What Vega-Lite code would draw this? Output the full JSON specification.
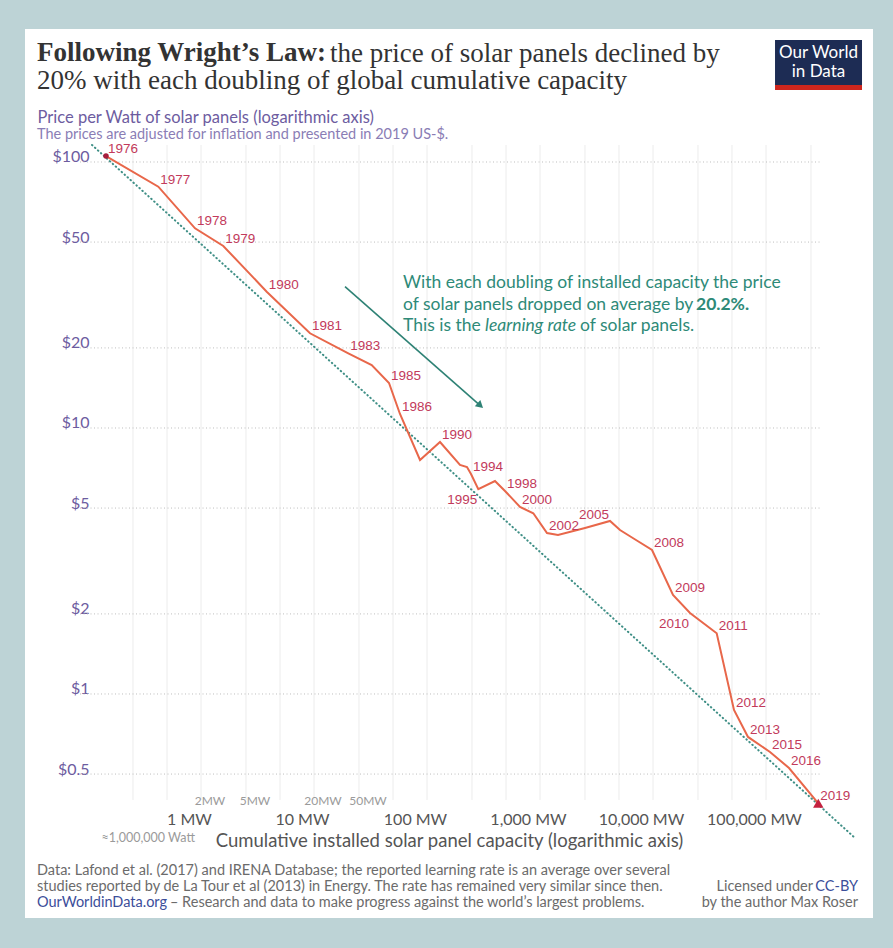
{
  "$schema": "https://vega.github.io/schema/vega-lite/v6.json",
  "width": 848,
  "height": 889,
  "autosize": {"type": "none"},
  "padding": {"left": 25, "top": 29, "right": 20, "bottom": 30},
  "background": "#bdd3d6",
  "config": {"view": {"fill": "white", "stroke": null}, "font": "Lato"},
  "title": {
    "text": "Following Wright’s Law:",
    "subtitle": "20% with each doubling of global cumulative capacity",
    "anchor": "start", "frame": "group", "offset": -66, "dx": 12,
    "font": "Liberation Serif", "fontSize": 27, "fontWeight": "bold", "color": "#333333",
    "subtitleFont": "Liberation Serif", "subtitleFontSize": 27, "subtitleColor": "#333333", "subtitlePadding": 1
  },
  "datasets": {
    "solar": [
      {"year": 1976, "mw": 0.2885, "price": 105.3, "label": "1976"},
      {"year": 1977, "mw": 0.8375, "price": 80.74, "label": "1977"},
      {"year": 1978, "mw": 1.770, "price": 56.33, "label": "1978"},
      {"year": 1979, "mw": 3.149, "price": 48.33, "label": "1979"},
      {"year": 1980, "mw": 7.626, "price": 32.54, "label": "1980"},
      {"year": 1981, "mw": 18.43, "price": 22.70, "label": "1981"},
      {"year": 1983, "mw": 40.22, "price": 19.09, "label": "1983"},
      {"year": 1984, "mw": 64.78, "price": 17.25, "label": null},
      {"year": 1985, "mw": 92.18, "price": 14.76, "label": "1985"},
      {"year": 1986, "mw": 115.3, "price": 11.29, "label": "1986"},
      {"year": 1987, "mw": 173.4, "price": 7.58, "label": null},
      {"year": 1990, "mw": 260.6, "price": 8.858, "label": "1990"},
      {"year": 1992, "mw": 391.6, "price": 7.26, "label": null},
      {"year": 1993, "mw": 451.7, "price": 7.13, "label": null},
      {"year": 1994, "mw": 490.0, "price": 6.714, "label": "1994"},
      {"year": 1995, "mw": 568.6, "price": 5.884, "label": "1995"},
      {"year": 1996, "mw": 799.0, "price": 6.320, "label": null},
      {"year": 1998, "mw": 979.8, "price": 5.798, "label": "1998"},
      {"year": 2000, "mw": 1330, "price": 5.048, "label": "2000"},
      {"year": 2001, "mw": 1744, "price": 4.779, "label": null},
      {"year": 2002, "mw": 2306, "price": 4.030, "label": "2002"},
      {"year": 2003, "mw": 2886, "price": 3.961, "label": null},
      {"year": 2004, "mw": 5001, "price": 4.208, "label": null},
      {"year": 2005, "mw": 8327, "price": 4.472, "label": "2005"},
      {"year": 2006, "mw": 10206, "price": 4.136, "label": null},
      {"year": 2007, "mw": 14143, "price": 3.793, "label": null},
      {"year": 2008, "mw": 19598, "price": 3.478, "label": "2008"},
      {"year": 2009, "mw": 30059, "price": 2.356, "label": "2009"},
      {"year": 2010, "mw": 42497, "price": 2.016, "label": "2010"},
      {"year": 2011, "mw": 73206, "price": 1.691, "label": "2011"},
      {"year": 2012, "mw": 104160, "price": 0.8706, "label": "2012"},
      {"year": 2013, "mw": 138550, "price": 0.6894, "label": "2013"},
      {"year": 2015, "mw": 216900, "price": 0.6052, "label": "2015"},
      {"year": 2016, "mw": 319500, "price": 0.5269, "label": "2016"},
      {"year": 2019, "mw": 580300, "price": 0.3882, "label": "2019"}
    ],
    "trend": [
      {"mw": 0.2169, "price": 115.86},
      {"mw": 1226000, "price": 0.2875}
    ],
    "vgrid": [
      {"mw": 0.5}, {"mw": 1}, {"mw": 2}, {"mw": 5}, {"mw": 10}, {"mw": 20}, {"mw": 50},
      {"mw": 100}, {"mw": 200}, {"mw": 500}, {"mw": 1000}, {"mw": 2000}, {"mw": 5000},
      {"mw": 10000}, {"mw": 20000}, {"mw": 50000}, {"mw": 100000}, {"mw": 200000}, {"mw": 500000}
    ],
    "hgrid": [
      {"price": 0.5}, {"price": 1}, {"price": 2}, {"price": 5},
      {"price": 10}, {"price": 20}, {"price": 50}, {"price": 100}
    ],
    "minor": [
      {"mw": 2, "label": "2MW"}, {"mw": 5, "label": "5MW"},
      {"mw": 20, "label": "20MW"}, {"mw": 50, "label": "50MW"}
    ]
  },
  "layer": [
    {
      "data": {"name": "vgrid"},
      "mark": {"type": "rule", "color": "#ececec", "strokeWidth": 1},
      "encoding": {
        "x": {"field": "mw", "type": "quantitative", "scale": {"type": "log", "domain": [0.055367, 1769500], "nice": false}},
        "y": {"datum": 0.3995, "type": "quantitative", "scale": {"type": "log", "domain": [0.14381, 316.23], "nice": false}},
        "y2": {"datum": 115.86}
      }
    },
    {
      "data": {"name": "hgrid"},
      "mark": {"type": "rule", "color": "#bdbdbd", "strokeWidth": 1, "strokeDash": [1, 2.5]},
      "encoding": {
        "y": {"field": "price", "type": "quantitative", "scale": {"type": "log", "domain": [0.14381, 316.23], "nice": false}},
        "x": {"datum": 0.16988, "type": "quantitative", "scale": {"type": "log", "domain": [0.055367, 1769500], "nice": false}},
        "x2": {"datum": 600800}
      }
    },
    {
      "data": {"name": "trend"},
      "mark": {"type": "line", "color": "#3f8f86", "strokeWidth": 2, "strokeDash": [0.5, 3.5], "strokeCap": "round"},
      "encoding": {
        "x": {"field": "mw", "type": "quantitative", "scale": {"type": "log", "domain": [0.055367, 1769500], "nice": false}},
        "y": {"field": "price", "type": "quantitative", "scale": {"type": "log", "domain": [0.14381, 316.23], "nice": false}}
      }
    },
    {
      "data": {"name": "solar"},
      "mark": {"type": "line", "color": "#e8674a", "strokeWidth": 2},
      "encoding": {
        "x": {
          "field": "mw", "type": "quantitative",
          "scale": {"type": "log", "domain": [0.055367, 1769500], "nice": false},
          "axis": {
            "values": [1, 10, 100, 1000, 10000, 100000],
            "labelExpr": "format(datum.value, ',') + ' MW'",
            "grid": false, "ticks": false, "domain": false,
            "offset": -118, "labelPadding": 11, "labelOffset": 22,
            "labelFont": "Lato", "labelFontSize": 16, "labelColor": "#555555",
            "labelOverlap": false, "labelFlush": false,
            "title": "Cumulative installed solar panel capacity (logarithmic axis)",
            "titleFont": "Lato", "titleFontSize": 18.5, "titleFontWeight": "normal",
            "titleColor": "#555555", "titlePadding": 4
          }
        },
        "y": {
          "field": "price", "type": "quantitative",
          "scale": {"type": "log", "domain": [0.14381, 316.23], "nice": false},
          "axis": {
            "values": [0.5, 1, 2, 5, 10, 20, 50, 100],
            "labelExpr": "'$' + datum.value",
            "grid": false, "ticks": false, "domain": false,
            "offset": -67, "labelPadding": 3,
            "labelFont": "Lato", "labelFontSize": 16, "labelColor": "#6d5c9f",
            "labelBaseline": "alphabetic",
            "title": "Price per Watt of solar panels (logarithmic axis)",
            "titleAngle": 0, "titleAlign": "left", "titleBaseline": "alphabetic",
            "titleX": -55, "titleY": 93,
            "titleFont": "Lato", "titleFontSize": 16.5, "titleFontWeight": "normal", "titleColor": "#6d5c9f"
          }
        },
        "order": {"field": "year", "type": "quantitative"}
      }
    },
    {
      "data": {"name": "solar"},
      "transform": [{"filter": "datum.year == 1976"}],
      "mark": {"type": "point", "filled": true, "shape": "circle", "size": 30, "color": "#a81e3c", "opacity": 1},
      "encoding": {
        "x": {"field": "mw", "type": "quantitative", "scale": {"type": "log", "domain": [0.055367, 1769500], "nice": false}},
        "y": {"field": "price", "type": "quantitative", "scale": {"type": "log", "domain": [0.14381, 316.23], "nice": false}}
      }
    },
    {
      "data": {"name": "solar"},
      "transform": [{"filter": "datum.year == 2019"}],
      "mark": {"type": "point", "filled": true, "shape": "triangle-up", "size": 110, "color": "#c4223f", "opacity": 1},
      "encoding": {
        "x": {"field": "mw", "type": "quantitative", "scale": {"type": "log", "domain": [0.055367, 1769500], "nice": false}},
        "y": {"field": "price", "type": "quantitative", "scale": {"type": "log", "domain": [0.14381, 316.23], "nice": false}}
      }
    },
    {
      "data": {"name": "solar"},
      "transform": [{"filter": "datum.label && datum.year != 1995 && datum.year != 2010 && datum.year != 2005"}],
      "mark": {"type": "text", "align": "left", "baseline": "alphabetic", "dx": 2, "dy": -3, "font": "Liberation Sans", "fontSize": 13.5, "color": "#c23a5b"},
      "encoding": {
        "x": {"field": "mw", "type": "quantitative", "scale": {"type": "log", "domain": [0.055367, 1769500], "nice": false}},
        "y": {"field": "price", "type": "quantitative", "scale": {"type": "log", "domain": [0.14381, 316.23], "nice": false}},
        "text": {"field": "label"}
      }
    },
    {
      "data": {"name": "solar"},
      "transform": [{"filter": "datum.year == 1995 || datum.year == 2010"}],
      "mark": {"type": "text", "align": "right", "baseline": "top", "dx": -1, "dy": 4, "font": "Liberation Sans", "fontSize": 13.5, "color": "#c23a5b"},
      "encoding": {
        "x": {"field": "mw", "type": "quantitative", "scale": {"type": "log", "domain": [0.055367, 1769500], "nice": false}},
        "y": {"field": "price", "type": "quantitative", "scale": {"type": "log", "domain": [0.14381, 316.23], "nice": false}},
        "text": {"field": "label"}
      }
    },
    {
      "data": {"name": "solar"},
      "transform": [{"filter": "datum.year == 2005"}],
      "mark": {"type": "text", "align": "right", "baseline": "alphabetic", "dx": -1, "dy": -2, "font": "Liberation Sans", "fontSize": 13.5, "color": "#c23a5b"},
      "encoding": {
        "x": {"field": "mw", "type": "quantitative", "scale": {"type": "log", "domain": [0.055367, 1769500], "nice": false}},
        "y": {"field": "price", "type": "quantitative", "scale": {"type": "log", "domain": [0.14381, 316.23], "nice": false}},
        "text": {"field": "label"}
      }
    },
    {
      "data": {"name": "minor"},
      "mark": {"type": "text", "align": "center", "baseline": "middle", "dx": 9, "font": "Lato", "fontSize": 12, "color": "#9a9a9a"},
      "encoding": {
        "x": {"field": "mw", "type": "quantitative", "scale": {"type": "log", "domain": [0.055367, 1769500], "nice": false}},
        "y": {"datum": 0.396, "type": "quantitative", "scale": {"type": "log", "domain": [0.14381, 316.23], "nice": false}},
        "text": {"field": "label"}
      }
    },
    {
      "data": {"values": [{}]},
      "mark": {"type": "text", "text": "≈1,000,000 Watt", "align": "right", "baseline": "middle", "dx": 28, "font": "Lato", "fontSize": 12.5, "color": "#9a9a9a"},
      "encoding": {
        "x": {"datum": 1, "type": "quantitative", "scale": {"type": "log", "domain": [0.055367, 1769500], "nice": false}},
        "y": {"datum": 0.2875, "type": "quantitative", "scale": {"type": "log", "domain": [0.14381, 316.23], "nice": false}}
      }
    },
    {
      "data": {"values": [{}]},
      "mark": {"type": "rule", "color": "#2e8275", "strokeWidth": 1.6},
      "encoding": {
        "x": {"datum": 37.6, "type": "quantitative", "scale": {"type": "log", "domain": [0.055367, 1769500], "nice": false}},
        "y": {"datum": 33.98, "type": "quantitative", "scale": {"type": "log", "domain": [0.14381, 316.23], "nice": false}},
        "x2": {"datum": 592.5},
        "y2": {"datum": 12.14}
      }
    },
    {
      "data": {"values": [{}]},
      "mark": {"type": "point", "filled": true, "shape": "triangle-up", "size": 70, "angle": 131, "color": "#2e8275", "opacity": 1},
      "encoding": {
        "x": {"datum": 592.5, "type": "quantitative", "scale": {"type": "log", "domain": [0.055367, 1769500], "nice": false}},
        "y": {"datum": 12.14, "type": "quantitative", "scale": {"type": "log", "domain": [0.14381, 316.23], "nice": false}}
      }
    },
    {
      "data": {"values": [{}]},
      "mark": {"type": "text", "text": "With each doubling of installed capacity the price", "align": "left", "baseline": "alphabetic", "font": "Lato", "fontSize": 17.5, "color": "#2e8a78"},
      "encoding": {
        "x": {"datum": 122.6, "type": "quantitative", "scale": {"type": "log", "domain": [0.055367, 1769500], "nice": false}},
        "y": {"datum": 33.60, "type": "quantitative", "scale": {"type": "log", "domain": [0.14381, 316.23], "nice": false}}
      }
    },
    {
      "data": {"values": [{}]},
      "mark": {"type": "text", "text": "of solar panels dropped on average by", "align": "left", "baseline": "alphabetic", "font": "Lato", "fontSize": 17.5, "color": "#2e8a78"},
      "encoding": {
        "x": {"datum": 122.6, "type": "quantitative", "scale": {"type": "log", "domain": [0.055367, 1769500], "nice": false}},
        "y": {"datum": 27.89, "type": "quantitative", "scale": {"type": "log", "domain": [0.14381, 316.23], "nice": false}}
      }
    },
    {
      "data": {"values": [{}]},
      "mark": {"type": "text", "text": "20.2%.", "align": "left", "baseline": "alphabetic", "dx": 293, "font": "Lato", "fontSize": 17.5, "fontWeight": "bold", "color": "#2e8a78"},
      "encoding": {
        "x": {"datum": 122.6, "type": "quantitative", "scale": {"type": "log", "domain": [0.055367, 1769500], "nice": false}},
        "y": {"datum": 27.89, "type": "quantitative", "scale": {"type": "log", "domain": [0.14381, 316.23], "nice": false}}
      }
    },
    {
      "data": {"values": [{}]},
      "mark": {"type": "text", "text": "This is the", "align": "left", "baseline": "alphabetic", "font": "Lato", "fontSize": 17.5, "color": "#2e8a78"},
      "encoding": {
        "x": {"datum": 122.6, "type": "quantitative", "scale": {"type": "log", "domain": [0.055367, 1769500], "nice": false}},
        "y": {"datum": 23.16, "type": "quantitative", "scale": {"type": "log", "domain": [0.14381, 316.23], "nice": false}}
      }
    },
    {
      "data": {"values": [{}]},
      "mark": {"type": "text", "text": "learning rate", "align": "left", "baseline": "alphabetic", "dx": 82, "font": "Lato", "fontSize": 17.5, "fontStyle": "italic", "color": "#2e8a78"},
      "encoding": {
        "x": {"datum": 122.6, "type": "quantitative", "scale": {"type": "log", "domain": [0.055367, 1769500], "nice": false}},
        "y": {"datum": 23.16, "type": "quantitative", "scale": {"type": "log", "domain": [0.14381, 316.23], "nice": false}}
      }
    },
    {
      "data": {"values": [{}]},
      "mark": {"type": "text", "text": "of solar panels.", "align": "left", "baseline": "alphabetic", "dx": 177, "font": "Lato", "fontSize": 17.5, "color": "#2e8a78"},
      "encoding": {
        "x": {"datum": 122.6, "type": "quantitative", "scale": {"type": "log", "domain": [0.055367, 1769500], "nice": false}},
        "y": {"datum": 23.16, "type": "quantitative", "scale": {"type": "log", "domain": [0.14381, 316.23], "nice": false}}
      }
    },
    {
      "data": {"values": [{}]},
      "mark": {"type": "text", "text": "the price of solar panels declined by", "align": "left", "baseline": "alphabetic", "font": "Liberation Serif", "fontSize": 27, "color": "#333333"},
      "encoding": {
        "x": {"datum": 27.70, "type": "quantitative", "scale": {"type": "log", "domain": [0.055367, 1769500], "nice": false}},
        "y": {"datum": 237.6, "type": "quantitative", "scale": {"type": "log", "domain": [0.14381, 316.23], "nice": false}}
      }
    },
    {
      "data": {"values": [{}]},
      "mark": {"type": "text", "text": "The prices are adjusted for inflation and presented in 2019 US-$.", "align": "left", "baseline": "alphabetic", "font": "Lato", "fontSize": 14.5, "color": "#8a7db5"},
      "encoding": {
        "x": {"datum": 0.0707, "type": "quantitative", "scale": {"type": "log", "domain": [0.055367, 1769500], "nice": false}},
        "y": {"datum": 122.0, "type": "quantitative", "scale": {"type": "log", "domain": [0.14381, 316.23], "nice": false}}
      }
    },
    {
      "data": {"values": [{}]},
      "mark": {"type": "rect", "color": "#1d2c54"},
      "encoding": {
        "x": {"datum": 240310, "type": "quantitative", "scale": {"type": "log", "domain": [0.055367, 1769500], "nice": false}},
        "x2": {"datum": 1414500},
        "y": {"datum": 287.5, "type": "quantitative", "scale": {"type": "log", "domain": [0.14381, 316.23], "nice": false}},
        "y2": {"datum": 194.8}
      }
    },
    {
      "data": {"values": [{}]},
      "mark": {"type": "rect", "color": "#ce261e"},
      "encoding": {
        "x": {"datum": 240310, "type": "quantitative", "scale": {"type": "log", "domain": [0.055367, 1769500], "nice": false}},
        "x2": {"datum": 1414500},
        "y": {"datum": 194.8, "type": "quantitative", "scale": {"type": "log", "domain": [0.14381, 316.23], "nice": false}},
        "y2": {"datum": 186.5}
      }
    },
    {
      "data": {"values": [{}]},
      "mark": {"type": "text", "text": ["Our World", "in Data"], "align": "center", "baseline": "middle", "lineHeight": 19, "font": "Lato", "fontSize": 17, "color": "#ffffff"},
      "encoding": {
        "x": {"datum": 582700, "type": "quantitative", "scale": {"type": "log", "domain": [0.055367, 1769500], "nice": false}},
        "y": {"datum": 258.0, "type": "quantitative", "scale": {"type": "log", "domain": [0.14381, 316.23], "nice": false}}
      }
    },
    {
      "data": {"values": [{}]},
      "mark": {"type": "text", "text": "Data: Lafond et al. (2017) and IRENA Database; the reported learning rate is an average over several", "align": "left", "baseline": "middle", "font": "Lato", "fontSize": 14.5, "color": "#6b6b6b"},
      "encoding": {
        "x": {"datum": 0.0707, "type": "quantitative", "scale": {"type": "log", "domain": [0.055367, 1769500], "nice": false}},
        "y": {"datum": 0.21612, "type": "quantitative", "scale": {"type": "log", "domain": [0.14381, 316.23], "nice": false}}
      }
    },
    {
      "data": {"values": [{}]},
      "mark": {"type": "text", "text": "studies reported by de La Tour et al (2013) in Energy. The rate has remained very similar since then.", "align": "left", "baseline": "middle", "font": "Lato", "fontSize": 14.5, "color": "#6b6b6b"},
      "encoding": {
        "x": {"datum": 0.0707, "type": "quantitative", "scale": {"type": "log", "domain": [0.055367, 1769500], "nice": false}},
        "y": {"datum": 0.18812, "type": "quantitative", "scale": {"type": "log", "domain": [0.14381, 316.23], "nice": false}}
      }
    },
    {
      "data": {"values": [{}]},
      "mark": {"type": "text", "text": "OurWorldinData.org", "align": "left", "baseline": "middle", "font": "Lato", "fontSize": 14.5, "color": "#3c4e9a"},
      "encoding": {
        "x": {"datum": 0.0707, "type": "quantitative", "scale": {"type": "log", "domain": [0.055367, 1769500], "nice": false}},
        "y": {"datum": 0.16376, "type": "quantitative", "scale": {"type": "log", "domain": [0.14381, 316.23], "nice": false}}
      }
    },
    {
      "data": {"values": [{}]},
      "mark": {"type": "text", "text": "– Research and data to make progress against the world’s largest problems.", "align": "left", "baseline": "middle", "dx": 133, "font": "Lato", "fontSize": 14.5, "color": "#6b6b6b"},
      "encoding": {
        "x": {"datum": 0.0707, "type": "quantitative", "scale": {"type": "log", "domain": [0.055367, 1769500], "nice": false}},
        "y": {"datum": 0.16376, "type": "quantitative", "scale": {"type": "log", "domain": [0.14381, 316.23], "nice": false}}
      }
    },
    {
      "data": {"values": [{}]},
      "mark": {"type": "text", "text": "CC-BY", "align": "right", "baseline": "middle", "font": "Lato", "fontSize": 14.5, "color": "#3c4e9a"},
      "encoding": {
        "x": {"datum": 1303000, "type": "quantitative", "scale": {"type": "log", "domain": [0.055367, 1769500], "nice": false}},
        "y": {"datum": 0.18812, "type": "quantitative", "scale": {"type": "log", "domain": [0.14381, 316.23], "nice": false}}
      }
    },
    {
      "data": {"values": [{}]},
      "mark": {"type": "text", "text": "Licensed under", "align": "right", "baseline": "middle", "dx": -45, "font": "Lato", "fontSize": 14.5, "color": "#6b6b6b"},
      "encoding": {
        "x": {"datum": 1303000, "type": "quantitative", "scale": {"type": "log", "domain": [0.055367, 1769500], "nice": false}},
        "y": {"datum": 0.18812, "type": "quantitative", "scale": {"type": "log", "domain": [0.14381, 316.23], "nice": false}}
      }
    },
    {
      "data": {"values": [{}]},
      "mark": {"type": "text", "text": "by the author Max Roser", "align": "right", "baseline": "middle", "font": "Lato", "fontSize": 14.5, "color": "#6b6b6b"},
      "encoding": {
        "x": {"datum": 1303000, "type": "quantitative", "scale": {"type": "log", "domain": [0.055367, 1769500], "nice": false}},
        "y": {"datum": 0.16376, "type": "quantitative", "scale": {"type": "log", "domain": [0.14381, 316.23], "nice": false}}
      }
    }
  ]
}
